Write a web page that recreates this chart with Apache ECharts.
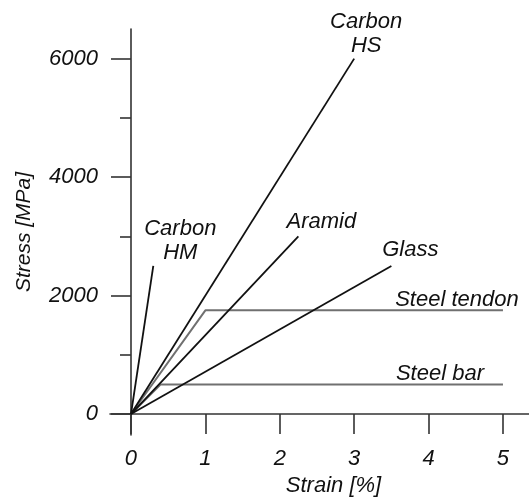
<!DOCTYPE html>
<html>
<head>
<meta charset="utf-8">
<script src="https://cdn.jsdelivr.net/npm/echarts@6/dist/echarts.min.js"></script>
<style>
  html, body { margin: 0; padding: 0; background: #fff; }
  #chart { width: 529px; height: 497px; }
</style>
</head>
<body>
<div id="chart"></div>
<script>
// ---- data (strain [%], stress [MPa]) ----
const seriesNames = ['Carbon HM', 'Carbon HS', 'Aramid', 'Glass', 'Steel tendon', 'Steel bar'];
const labelTexts = ['Carbon\nHM', 'Carbon\nHS', 'Aramid', 'Glass', 'Steel tendon', 'Steel bar'];
const carbonHM = [[0, 0], [0.3, 2500]];
const carbonHS = [[0, 0], [3.0, 6000]];
const aramid = [[0, 0], [2.25, 3000]];
const glass = [[0, 0], [3.5, 2500]];
const steelTendon = [[0, 0], [1.0, 1750], [5.0, 1750]];
const steelBar = [[0, 0], [0.4, 500], [5.0, 500]];
const xTicks = [0, 1, 2, 3, 4, 5];
const yTicks = [0, 2000, 4000, 6000];
const yMinorTicks = [1000, 3000, 5000];

// ---- styling ----
const FONT = "'Liberation Sans', Arial, sans-serif";
const TXT = '#111111';
const AX = '#333333';
const lineData = [carbonHM, carbonHS, aramid, glass, steelTendon, steelBar];
const lineColors = ['#111', '#111', '#111', '#111', '#707070', '#707070'];
const labelOffsets = [[27, -25], [12, -25], [23, -14], [19, -16], [-46, -10], [-63, -11]];
const plain = v => String(v);

const series = lineData.map((d, i) => ({
  name: seriesNames[i],
  type: 'line',
  data: d,
  showSymbol: false,
  symbol: 'none',
  lineStyle: { color: lineColors[i], width: i >= 4 ? 2 : 1.8 },
  z: i >= 4 ? 1 : 2,
  silent: true,
  animation: false
}));

series.push({
  type: 'scatter',
  data: lineData.map((d, i) => ({
    value: d[d.length - 1],
    label: {
      show: true,
      formatter: labelTexts[i],
      position: 'inside',
      offset: labelOffsets[i]
    }
  })),
  symbolSize: 1,
  itemStyle: { color: 'rgba(0,0,0,0)' },
  label: {
    color: TXT,
    fontFamily: FONT,
    fontStyle: 'italic',
    fontSize: 22,
    lineHeight: 24,
    align: 'center',
    verticalAlign: 'middle',
    textBorderWidth: 0,
    textBorderColor: 'transparent',
    opacity: 1
  },
  silent: true,
  animation: false,
  z: 5
});

const chart = echarts.init(document.getElementById('chart'), null, { renderer: 'canvas' });
chart.setOption({
  backgroundColor: '#fff',
  animation: false,
  grid: { left: 110, right: 0, top: 29, bottom: 62, containLabel: false, outerBoundsMode: 'none' },
  xAxis: {
    type: 'value',
    min: -0.282,
    max: 5.35,
    name: 'Strain [%]',
    nameLocation: 'middle',
    nameGap: 40,
    nameMoveOverlap: false,
    nameTextStyle: { color: TXT, fontFamily: FONT, fontStyle: 'italic', fontSize: 22, padding: [0, 0, 0, 28] },
    axisLine: { onZero: true, lineStyle: { color: AX, width: 1.6 } },
    axisTick: { show: true, customValues: xTicks, length: 20, inside: false, lineStyle: { color: AX, width: 1.6 } },
    axisLabel: { customValues: xTicks, formatter: plain, margin: 13, color: TXT, fontFamily: FONT, fontStyle: 'italic', fontSize: 22 },
    splitLine: { show: false }
  },
  yAxis: [{
    type: 'value',
    min: -354,
    max: 6500,
    name: 'Stress [MPa]',
    nameLocation: 'middle',
    nameGap: 75,
    nameMoveOverlap: false,
    nameRotate: 90,
    nameTextStyle: { color: TXT, fontFamily: FONT, fontStyle: 'italic', fontSize: 21 },
    axisLine: { onZero: true, onZeroAxisIndex: 0, lineStyle: { color: AX, width: 1.6 } },
    axisTick: { show: true, customValues: yTicks, length: 20, inside: false, lineStyle: { color: AX, width: 1.6 } },
    axisLabel: { customValues: yTicks, formatter: plain, margin: 12, color: TXT, fontFamily: FONT, fontStyle: 'italic', fontSize: 22 },
    splitLine: { show: false }
  }, {
    type: 'value',
    min: -354,
    max: 6500,
    position: 'left',
    axisLine: { show: false, onZero: true, onZeroAxisIndex: 0 },
    axisTick: { show: true, customValues: yMinorTicks, length: 11, inside: false, lineStyle: { color: AX, width: 1.6 } },
    axisLabel: { show: false },
    splitLine: { show: false }
  }],
  series: series
});
</script>
</body>
</html>
